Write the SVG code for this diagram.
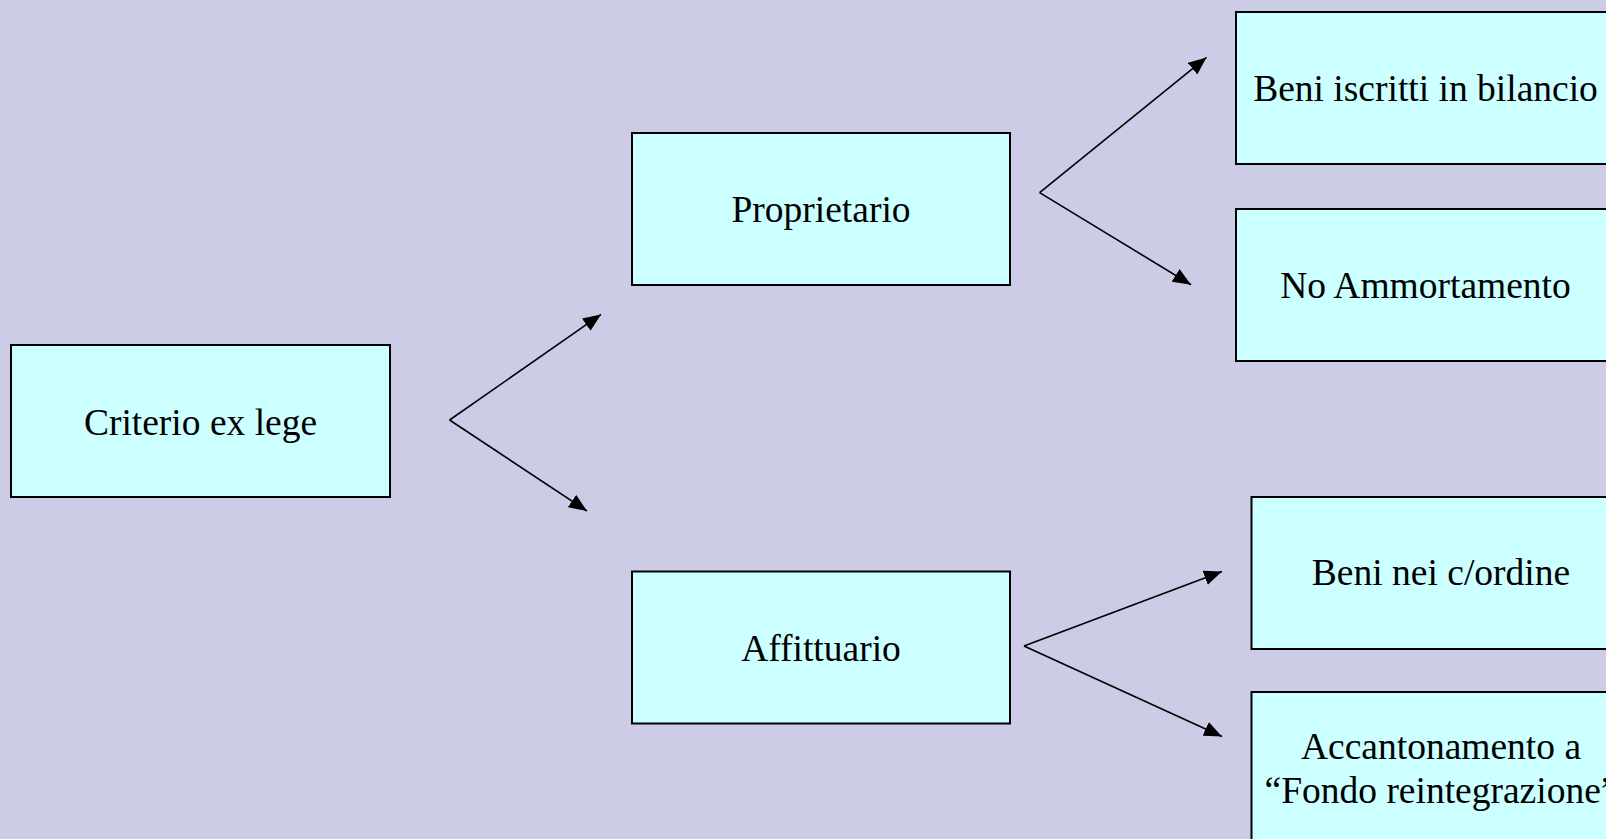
<svg xmlns="http://www.w3.org/2000/svg" width="1606" height="839" viewBox="0 0 1606 839">
<style>
.box{fill:#CCFFFF;stroke:#000;stroke-width:2}
.lbl{font-family:"Liberation Serif","Times New Roman",serif;font-size:37.5px;fill:#000;text-anchor:middle}
.con{fill:none;stroke:#000;stroke-width:1.6}
</style>
<defs>
<marker id="arr" markerUnits="userSpaceOnUse" markerWidth="19" markerHeight="15" viewBox="0 0 19 15" refX="18" refY="7.5" orient="auto">
<path d="M0,0 L18,7.5 L0,15 Z" fill="#000"/>
</marker>
</defs>
<rect width="1606" height="839" fill="#CCCCE6"/>
<g id="criterio">
<rect class="box" x="11" y="345" width="379" height="152"/>
<text class="lbl" x="200.5" y="435">Criterio ex lege</text>
</g>
<g id="proprietario">
<rect class="box" x="632" y="133" width="378" height="152"/>
<text class="lbl" x="821" y="222">Proprietario</text>
</g>
<g id="affittuario">
<rect class="box" x="632" y="571.5" width="378" height="152"/>
<text class="lbl" x="821" y="661">Affittuario</text>
</g>
<g id="beni-iscritti">
<rect class="box" x="1236" y="12" width="379" height="152"/>
<text class="lbl" x="1425.5" y="101">Beni iscritti in bilancio</text>
</g>
<g id="no-ammortamento">
<rect class="box" x="1236" y="209" width="379" height="152"/>
<text class="lbl" x="1425.5" y="298">No Ammortamento</text>
</g>
<g id="beni-ordine">
<rect class="box" x="1251.5" y="497" width="379" height="152"/>
<text class="lbl" x="1441" y="585">Beni nei c/ordine</text>
</g>
<g id="accantonamento">
<rect class="box" x="1251.5" y="692" width="379" height="152"/>
<text class="lbl" x="1441" y="759">Accantonamento a</text>
<text class="lbl" x="1441" y="803">“Fondo reintegrazione”</text>
</g>
<g id="connectors">
<path class="con" d="M449.6,420 L601,314.4" marker-end="url(#arr)"/>
<path class="con" d="M449.6,420 L587,511" marker-end="url(#arr)"/>
<path class="con" d="M1039.6,192.6 L1206.5,57.4" marker-end="url(#arr)"/>
<path class="con" d="M1039.6,192.6 L1191,284.7" marker-end="url(#arr)"/>
<path class="con" d="M1024,646 L1222,571.5" marker-end="url(#arr)"/>
<path class="con" d="M1024,646 L1222,736.4" marker-end="url(#arr)"/>
</g>
</svg>
